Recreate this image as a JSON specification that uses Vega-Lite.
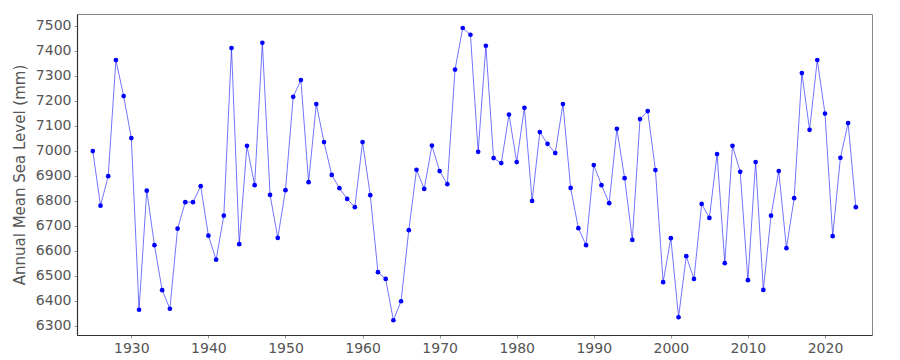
{
  "$schema": "https://vega.github.io/schema/vega-lite/v6.json",
  "autosize": "none",
  "width": 795,
  "height": 321,
  "padding": {"left": 77, "top": 14, "right": 28, "bottom": 25},
  "background": "white",
  "config": {
    "view": {"stroke": "#888888", "strokeWidth": 1},
    "axis": {
      "domainColor": "#333333",
      "domainWidth": 1.2,
      "tickColor": "#999999",
      "tickSize": 3,
      "labelFont": "DejaVu Sans",
      "labelFontSize": 14,
      "labelColor": "#555555",
      "titleFont": "DejaVu Sans",
      "titleFontSize": 15,
      "titleFontWeight": "normal",
      "titleColor": "#555555",
      "grid": false
    }
  },
  "data": {
    "values": [
      {"year": 1925, "msl": 6999}, {"year": 1926, "msl": 6781}, {"year": 1927, "msl": 6899},
      {"year": 1928, "msl": 7363}, {"year": 1929, "msl": 7219}, {"year": 1930, "msl": 7051},
      {"year": 1931, "msl": 6365}, {"year": 1932, "msl": 6841}, {"year": 1933, "msl": 6623},
      {"year": 1934, "msl": 6443}, {"year": 1935, "msl": 6369}, {"year": 1936, "msl": 6689},
      {"year": 1937, "msl": 6795}, {"year": 1938, "msl": 6795}, {"year": 1939, "msl": 6859},
      {"year": 1940, "msl": 6661}, {"year": 1941, "msl": 6565}, {"year": 1942, "msl": 6741},
      {"year": 1943, "msl": 7411}, {"year": 1944, "msl": 6627}, {"year": 1945, "msl": 7020},
      {"year": 1946, "msl": 6863}, {"year": 1947, "msl": 7432}, {"year": 1948, "msl": 6824},
      {"year": 1949, "msl": 6652}, {"year": 1950, "msl": 6843}, {"year": 1951, "msl": 7216},
      {"year": 1952, "msl": 7283}, {"year": 1953, "msl": 6875}, {"year": 1954, "msl": 7187},
      {"year": 1955, "msl": 7035}, {"year": 1956, "msl": 6904}, {"year": 1957, "msl": 6851},
      {"year": 1958, "msl": 6808}, {"year": 1959, "msl": 6775}, {"year": 1960, "msl": 7035},
      {"year": 1961, "msl": 6823}, {"year": 1962, "msl": 6515}, {"year": 1963, "msl": 6488},
      {"year": 1964, "msl": 6323}, {"year": 1965, "msl": 6399}, {"year": 1966, "msl": 6683},
      {"year": 1967, "msl": 6924}, {"year": 1968, "msl": 6848}, {"year": 1969, "msl": 7021},
      {"year": 1970, "msl": 6919}, {"year": 1971, "msl": 6867}, {"year": 1972, "msl": 7325},
      {"year": 1973, "msl": 7491}, {"year": 1974, "msl": 7464}, {"year": 1975, "msl": 6996},
      {"year": 1976, "msl": 7420}, {"year": 1977, "msl": 6971}, {"year": 1978, "msl": 6951},
      {"year": 1979, "msl": 7145}, {"year": 1980, "msl": 6955}, {"year": 1981, "msl": 7172},
      {"year": 1982, "msl": 6800}, {"year": 1983, "msl": 7075}, {"year": 1984, "msl": 7028},
      {"year": 1985, "msl": 6991}, {"year": 1986, "msl": 7187}, {"year": 1987, "msl": 6852},
      {"year": 1988, "msl": 6691}, {"year": 1989, "msl": 6623}, {"year": 1990, "msl": 6943},
      {"year": 1991, "msl": 6863}, {"year": 1992, "msl": 6791}, {"year": 1993, "msl": 7088},
      {"year": 1994, "msl": 6891}, {"year": 1995, "msl": 6644}, {"year": 1996, "msl": 7127},
      {"year": 1997, "msl": 7159}, {"year": 1998, "msl": 6923}, {"year": 1999, "msl": 6475},
      {"year": 2000, "msl": 6651}, {"year": 2001, "msl": 6335}, {"year": 2002, "msl": 6579},
      {"year": 2003, "msl": 6488}, {"year": 2004, "msl": 6788}, {"year": 2005, "msl": 6732},
      {"year": 2006, "msl": 6987}, {"year": 2007, "msl": 6551}, {"year": 2008, "msl": 7020},
      {"year": 2009, "msl": 6916}, {"year": 2010, "msl": 6483}, {"year": 2011, "msl": 6955},
      {"year": 2012, "msl": 6444}, {"year": 2013, "msl": 6741}, {"year": 2014, "msl": 6919},
      {"year": 2015, "msl": 6611}, {"year": 2016, "msl": 6811}, {"year": 2017, "msl": 7311},
      {"year": 2018, "msl": 7084}, {"year": 2019, "msl": 7363}, {"year": 2020, "msl": 7149},
      {"year": 2021, "msl": 6659}, {"year": 2022, "msl": 6972}, {"year": 2023, "msl": 7111},
      {"year": 2024, "msl": 6775}
    ]
  },
  "encoding": {
    "x": {
      "field": "year",
      "type": "quantitative",
      "scale": {"domain": [1922.95, 2026.1], "nice": false, "zero": false},
      "axis": {"title": null, "values": [1930, 1940, 1950, 1960, 1970, 1980, 1990, 2000, 2010, 2020], "format": "d", "labelPadding": 3}
    },
    "y": {
      "field": "msl",
      "type": "quantitative",
      "scale": {"domain": [6264, 7547], "nice": false, "zero": false},
      "axis": {"title": "Annual Mean Sea Level (mm)", "values": [6300, 6400, 6500, 6600, 6700, 6800, 6900, 7000, 7100, 7200, 7300, 7400, 7500], "format": "d", "labelPadding": 3, "titlePadding": 8}
    }
  },
  "layer": [
    {"mark": {"type": "line", "color": "#0000ff", "strokeWidth": 1, "opacity": 0.55}},
    {"mark": {"type": "circle", "color": "#0000ff", "size": 22, "opacity": 1}}
  ]
}
